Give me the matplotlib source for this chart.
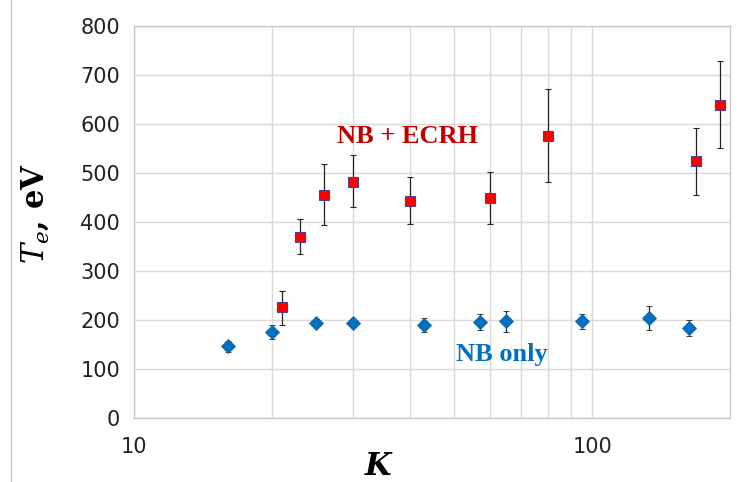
import numpy as np
import matplotlib
matplotlib.use("Agg")
import matplotlib.pyplot as plt
from matplotlib.lines import Line2D
from matplotlib.ticker import FixedLocator, NullFormatter, FixedFormatter

plt.rcParams['mathtext.fontset'] = 'dejavuserif'

# NB + ECRH
k_ecrh = [21, 23, 26, 30, 40, 60, 80, 169, 190]
te_ecrh = [226, 369, 455, 482, 443, 448, 576, 524, 639]
err_lo_ecrh = [36, 35, 62, 52, 48, 53, 95, 69, 88]
err_hi_ecrh = [33, 37, 62, 54, 49, 53, 95, 68, 90]

# NB only
k_nb = [16, 20, 25, 30, 43, 57, 65, 95, 133, 163]
te_nb = [146, 175, 194, 194, 189, 196, 197, 197, 204, 183]
err_nb = [11, 14, 6, 6, 14, 16, 22, 15, 25, 16]

fig = plt.figure(figsize=(7.42, 4.82), dpi=100)
ax = fig.add_axes([0.1806, 0.1328, 0.8032, 0.8139])

ax.errorbar(k_ecrh, te_ecrh, yerr=[err_lo_ecrh, err_hi_ecrh], fmt='s', color='#ff0000',
            markeredgecolor='#4b3f8f', markeredgewidth=0.8, markersize=7.5,
            ecolor='#222222', elinewidth=0.9, capsize=2.5, capthick=0.9, zorder=3)
ax.errorbar(k_nb, te_nb, yerr=err_nb, fmt='D', color='#0070c0',
            markeredgecolor='#1f5f9f', markeredgewidth=0.6, markersize=7.5,
            ecolor='#222222', elinewidth=0.9, capsize=2.5, capthick=0.9, zorder=3)

ax.set_xscale('log')
ax.set_xlim(10, 200)
ax.set_ylim(0, 800)
ax.set_yticks(np.arange(0, 801, 100))
ax.xaxis.set_major_locator(FixedLocator([10, 100]))
ax.xaxis.set_minor_locator(FixedLocator([20, 30, 40, 50, 60, 70, 80, 90]))
ax.xaxis.set_minor_formatter(NullFormatter())
ax.xaxis.set_major_formatter(FixedFormatter(['10', '100']))

ax.grid(True, which='both', color='#d9d9d9', linewidth=1.0)
ax.set_axisbelow(True)
for s in ax.spines.values():
    s.set_color('#c8c8c8')
    s.set_linewidth(1.0)
ax.tick_params(which='both', length=0, labelsize=15, colors='#222222', pad=14)
ax.tick_params(axis='y', pad=10)

ax.set_xlabel('K', fontsize=22, family='DejaVu Serif', fontweight='bold',
              fontstyle='italic', labelpad=0)
ax.xaxis.set_label_coords(0.41, -0.085)
ax.set_ylabel(r'$\boldsymbol{T_e}$, eV', fontsize=22, family='DejaVu Serif',
              fontweight='bold')
ax.yaxis.set_label_coords(-0.14, 0.52)

ax.text(39.6, 575, 'NB + ECRH', color='#c00000', fontsize=19, fontweight='bold',
        family='Liberation Serif', ha='center', va='center')
ax.text(63.5, 130, 'NB only', color='#0070c0', fontsize=19, fontweight='bold',
        family='Liberation Serif', ha='center', va='center')

fig.add_artist(Line2D([11 / 742, 11 / 742], [0, 1], color='#c8c8c8', linewidth=1.0))

fig.savefig('out.png', dpi=100)
